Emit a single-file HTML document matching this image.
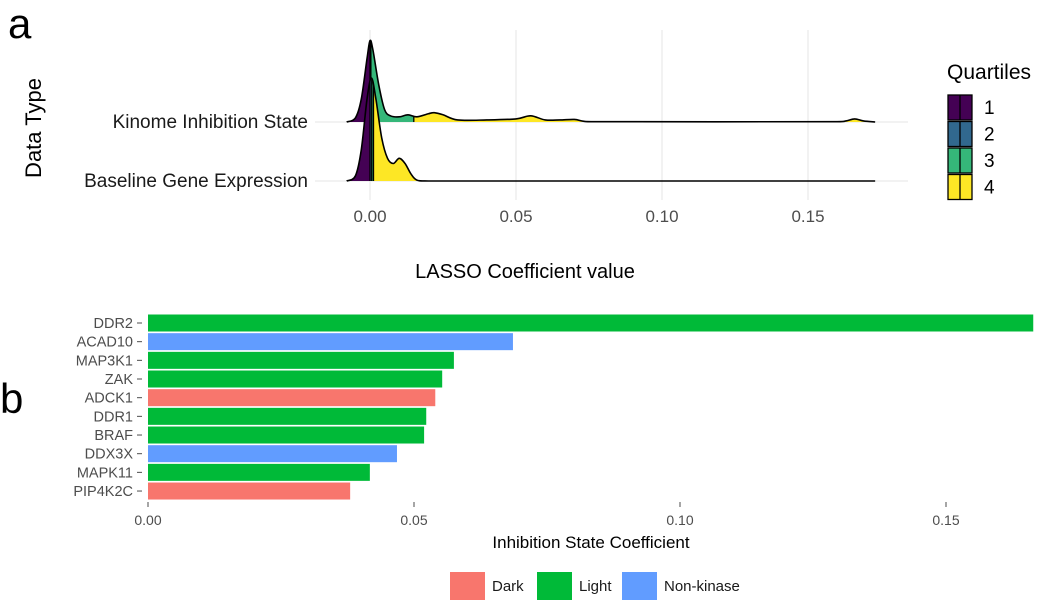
<!DOCTYPE html>
<html><head><meta charset="utf-8"><style>
body{margin:0;background:#fff;}
svg text{font-family:"Liberation Sans",sans-serif;}
</style></head><body>
<svg id="c" width="1050" height="604" viewBox="0 0 1050 604" xmlns="http://www.w3.org/2000/svg">
<text x="8" y="38" font-size="42">a</text>
<text x="0" y="413" font-size="42">b</text>
<g id="topg"></g>
<g id="botg"></g>
</svg>
<script>
// ---- ridgeline data ----
const ridgeNames = ["Kinome Inhibition State","Baseline Gene Expression"];
const kinX = [-0.008,-0.005,-0.003,-0.001,0,0.001,0.003,0.005,0.007,0.01,0.013,0.016,0.02,0.022,0.025,0.03,0.04,0.05,0.055,0.06,0.065,0.07,0.073,0.077,0.16,0.163,0.166,0.169,0.173];
const kinY = [0,0.04,0.22,0.62,0.79,0.7,0.36,0.12,0.06,0.05,0.07,0.05,0.08,0.09,0.07,0.02,0.02,0.03,0.06,0.02,0.02,0.025,0.008,0.003,0.003,0.01,0.03,0.01,0];
const kinQ = [0,0.0003,0.015];
const expX = [-0.008,-0.005,-0.003,-0.001,0.0005,0.002,0.004,0.006,0.008,0.01,0.012,0.014,0.016,0.02,0.173];
const expY = [0,0.05,0.3,0.8,1.0,0.8,0.42,0.22,0.17,0.22,0.17,0.07,0.01,0,0];
const expQ = [0,0.0006,0.0012];
const topTicks = [0,0.05,0.10,0.15];
const topTickLabels = ["0.00","0.05","0.10","0.15"];
const qColors = ["#440154","#31688E","#35B779","#FDE725"];
// ---- bar data ----
const genes = ["DDR2","ACAD10","MAP3K1","ZAK","ADCK1","DDR1","BRAF","DDX3X","MAPK11","PIP4K2C"];
const coefs = [0.1664,0.0686,0.0575,0.0553,0.054,0.0523,0.0519,0.0468,0.0417,0.038];
const groups = ["Light","Non-kinase","Light","Light","Dark","Light","Light","Non-kinase","Light","Dark"];
const botTicks = [0,0.05,0.10,0.15];
const botTickLabels = ["0.00","0.05","0.10","0.15"];
const groupNames = ["Dark","Light","Non-kinase"];
const groupColors = {"Dark":"#F8766D","Light":"#00BA38","Non-kinase":"#619CFF"};

const NS="http://www.w3.org/2000/svg";
function mk(parent,tag,attrs,text){const e=document.createElementNS(NS,tag);for(const k in attrs)e.setAttribute(k,attrs[k]);if(text!==undefined)e.textContent=text;parent.appendChild(e);return e;}
const topG=document.getElementById('topg'), botG=document.getElementById('botg');
const tx=v=>370+v*2920;
const bases=[122,181];
const hScale=103;
topTicks.forEach((t,i)=>{
  const g=mk(topG,'line',{x1:tx(t),x2:tx(t),y1:30,y2:200,stroke:'#e5e5e5','stroke-width':1});
  
  
  const l=mk(topG,'text',{x:tx(t),y:222,'font-size':17,'text-anchor':'middle',fill:'#4d4d4d'},topTickLabels[i]);
  
  
});
bases.forEach((b,i)=>{
  const g=mk(topG,'line',{x1:315,x2:908,y1:b,y2:b,stroke:'#e5e5e5','stroke-width':1});
  
  
  const l=mk(topG,'text',{x:308,y:b+6,'font-size':19,'text-anchor':'end',fill:'#1a1a1a'},ridgeNames[i]);
  
  
});
function curve(xs,ys,base){
  const p=xs.map((x,i)=>[tx(x),base-ys[i]*hScale]);
  let d=`M${p[0][0]},${p[0][1]}`;
  for(let i=0;i<p.length-1;i++){
    const p0=p[Math.max(0,i-1)],p1=p[i],p2=p[i+1],p3=p[Math.min(p.length-1,i+2)];
    const c1=[p1[0]+(p2[0]-p0[0])/6,p1[1]+(p2[1]-p0[1])/6];
    const c2=[p2[0]-(p3[0]-p1[0])/6,p2[1]-(p3[1]-p1[1])/6];
    c1[0]=Math.min(c1[0],p2[0]);c2[0]=Math.max(c2[0],p1[0]);
    c1[1]=Math.min(c1[1],base);c2[1]=Math.min(c2[1],base);
    d+=` C${c1[0]},${c1[1]} ${c2[0]},${c2[1]} ${p2[0]},${p2[1]}`;
  }
  return d;
}
const defs=mk(document.getElementById('c'),'defs',{});
function ridge(xs,ys,q,base,idx){
  const line=curve(xs,ys,base);
  const area=line+` L${tx(xs[xs.length-1])},${base} L${tx(xs[0])},${base} Z`;
  const bounds=[xs[0]].concat(q).concat([xs[xs.length-1]]);
  for(let k=0;k<4;k++){
    const cid='clip'+idx+'_'+k;
    const cp=mk(defs,'clipPath',{id:cid});
    mk(cp,'rect',{x:tx(bounds[k]),y:0,width:Math.max(0,tx(bounds[k+1])-tx(bounds[k])),height:300});
    const a=mk(topG,'path',{d:area,fill:qColors[k],'clip-path':`url(#${cid})`});
    
    
  }
  const cpAll='clipall'+idx;
  const cp=mk(defs,'clipPath',{id:cpAll});mk(cp,'path',{d:area});
  q.forEach(v=>{
    const l=mk(topG,'line',{x1:tx(v),x2:tx(v),y1:0,y2:base,stroke:'#000','stroke-width':1.3,'clip-path':`url(#${cpAll})`});
    
    
  });
  const o=mk(topG,'path',{d:line,fill:'none',stroke:'#000','stroke-width':1.6});
  
  
}
ridge(kinX,kinY,kinQ,bases[0],0);
ridge(expX,expY,expQ,bases[1],1);
let t=mk(topG,'text',{x:525,y:278,'font-size':20,'text-anchor':'middle',fill:'#000'},'LASSO Coefficient value');


t=mk(topG,'text',{x:0,y:0,'font-size':22,'text-anchor':'middle',fill:'#000',transform:'translate(41,128) rotate(-90)'},'Data Type');


t=mk(topG,'text',{x:947,y:79,'font-size':21,fill:'#000'},'Quartiles');


qColors.forEach((c,k)=>{
  const y=95+k*26.5;
  const r=mk(topG,'rect',{x:948,y:y,width:24,height:25,fill:c,stroke:'#000','stroke-width':1.3});
  
  
  mk(topG,'line',{x1:960,x2:960,y1:y,y2:y+25,stroke:'#000','stroke-width':1.3});
  const l=mk(topG,'text',{x:984,y:y+19,'font-size':19,fill:'#000'},String(k+1));
  
  
});
// ---- bars ----
const bx=v=>148+v*5320;
const by0=323, step=18.67, bh=17;
botTicks.forEach((tk,i)=>{
  mk(botG,'line',{x1:bx(tk),x2:bx(tk),y1:502,y2:507,stroke:'#4d4d4d','stroke-width':1});
  const l=mk(botG,'text',{x:bx(tk),y:525,'font-size':14,'text-anchor':'middle',fill:'#4d4d4d'},botTickLabels[i]);
  
  
});
genes.forEach((g,i)=>{
  const cy=by0+i*step;
  const r=mk(botG,'rect',{x:bx(0),y:cy-bh/2,width:bx(coefs[i])-bx(0),height:bh,fill:groupColors[groups[i]]});
  
  
  mk(botG,'line',{x1:137,x2:142,y1:cy,y2:cy,stroke:'#4d4d4d','stroke-width':1});
  const l=mk(botG,'text',{x:133,y:cy+5,'font-size':14.5,'text-anchor':'end',fill:'#4d4d4d'},g);
  
  
});
t=mk(botG,'text',{x:591,y:548,'font-size':17,'text-anchor':'middle',fill:'#000'},'Inhibition State Coefficient');


const legX=[450,537,622];
groupNames.forEach((gn,i)=>{
  const r=mk(botG,'rect',{x:legX[i],y:572,width:35,height:28,fill:groupColors[gn]});
  
  
  const l=mk(botG,'text',{x:legX[i]+42,y:591,'font-size':15,fill:'#1a1a1a'},gn);
  
  
});
</script>
</body></html>
